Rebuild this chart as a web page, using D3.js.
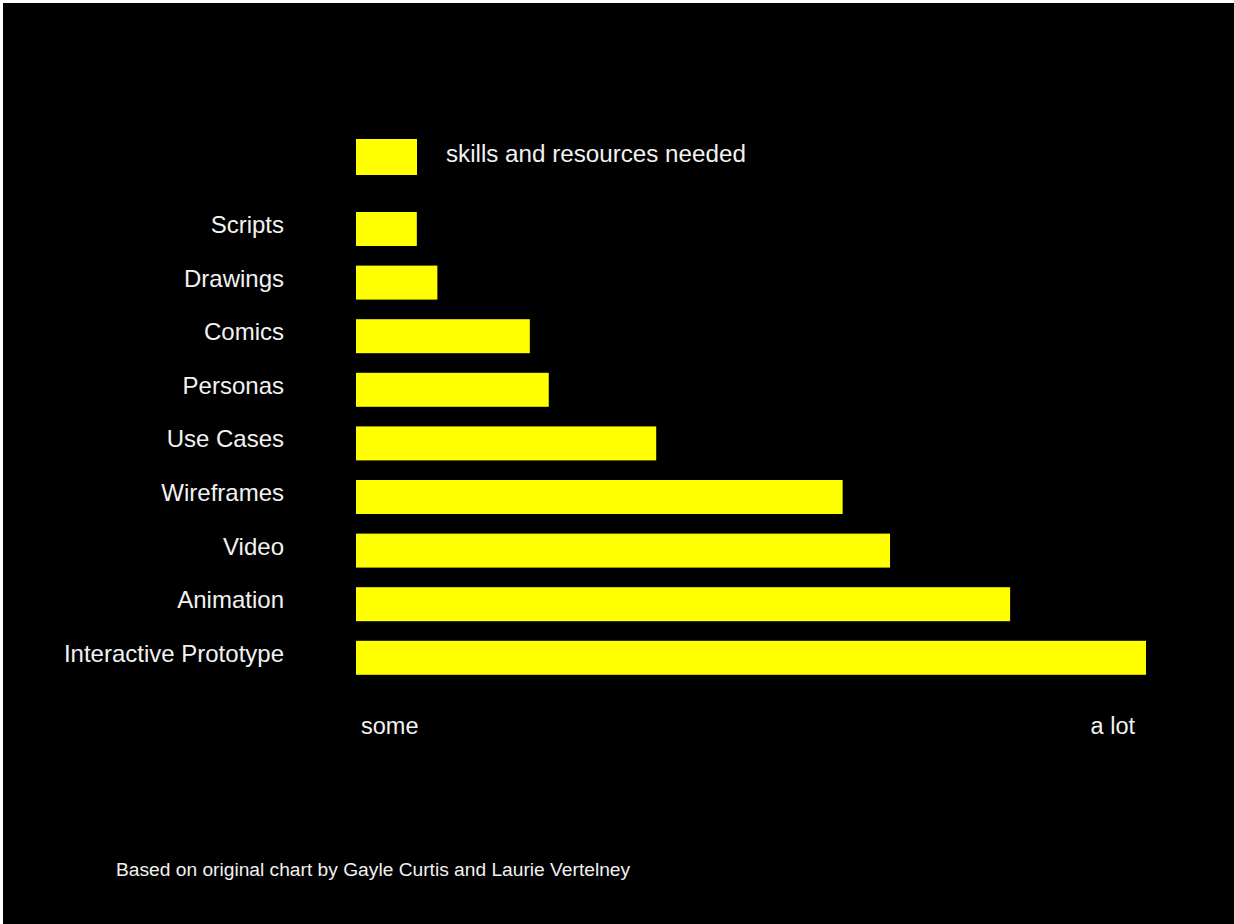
<!DOCTYPE html>
<html>
<head>
<meta charset="utf-8">
<script src="https://cdn.jsdelivr.net/npm/d3@7"></script>
<style>
  html, body { margin: 0; padding: 0; background: #fff; }
  svg { display: block; }
  .text { font-family: "Liberation Sans", Arial, Helvetica, sans-serif; fill: #f2f2f2; }
</style>
</head>
<body>
<svg id="chart" width="1234" height="924"></svg>
<script>
// data
var categories = ["Scripts", "Drawings", "Comics", "Personas", "Use Cases",
                  "Wireframes", "Video", "Animation", "Interactive Prototype"];
var values = [7.7, 10.3, 22, 24.4, 38, 61.6, 67.6, 82.8, 100];
var axisLabels = ["some", "a lot"];
var legendLabel = "skills and resources needed";
var footnote = "Based on original chart by Gayle Curtis and Laurie Vertelney";

var svg = d3.select("#chart"),
    width = +svg.attr("width"),
    height = +svg.attr("height"),
    barColor = "#ffff00";

// black panel (thin light edge top/left like the source screenshot)
svg.append("rect")
  .attr("x", 3).attr("y", 3)
  .attr("width", width - 3).attr("height", height - 3)
  .attr("fill", "#000");

// soft edges on the bars
var defs = svg.append("defs");
defs.append("filter").attr("id", "soft")
  .append("feGaussianBlur").attr("stdDeviation", 0.6);

var x = d3.scaleLinear().domain([0, 100]).range([356, 1146]);

var y = d3.scaleBand()
  .domain(categories)
  .range([202.2, 684.6])
  .paddingInner(0.366)
  .paddingOuter(0.183);

var rows = categories.map(function(c, i) { return {label: c, value: values[i]}; });

//bars
svg.append("g")
  .selectAll("rect")
  .data(rows)
  .enter().append("rect")
  .attr("x", x(0))
  .attr("y", function(d) { return y(d.label); })
  .attr("width", function(d) { return x(d.value) - x(0); })
  .attr("height", y.bandwidth())
  .attr("fill", barColor)
  .attr("filter", "url(#soft)");

//category labels
svg.append("g")
  .selectAll("text")
  .data(rows)
  .enter().append("text")
  .attr("class", "text")
  .attr("x", 284)
  .attr("y", function(d) { return y(d.label) + y.bandwidth() / 2 + 4; })
  .attr("text-anchor", "end")
  .style("font-size", "24px")
  .text(function(d) { return d.label; });

//legend
svg.append("rect")
  .attr("x", x(0)).attr("y", 139)
  .attr("width", 61).attr("height", 36)
  .attr("fill", barColor)
  .attr("filter", "url(#soft)");

svg.append("text")
  .attr("class", "text")
  .attr("x", 446).attr("y", 162)
  .style("font-size", "24.2px")
  .text(legendLabel);

//axis end labels
svg.append("text")
  .attr("class", "text")
  .attr("x", x(0) + 5).attr("y", 734)
  .style("font-size", "23.5px")
  .text(axisLabels[0]);

svg.append("text")
  .attr("class", "text")
  .attr("x", x(100) - 11).attr("y", 734)
  .attr("text-anchor", "end")
  .style("font-size", "23.5px")
  .text(axisLabels[1]);

//footnote
svg.append("text")
  .attr("class", "text")
  .attr("x", 116).attr("y", 876)
  .style("font-size", "19.2px")
  .text(footnote);
</script>
</body>
</html>
